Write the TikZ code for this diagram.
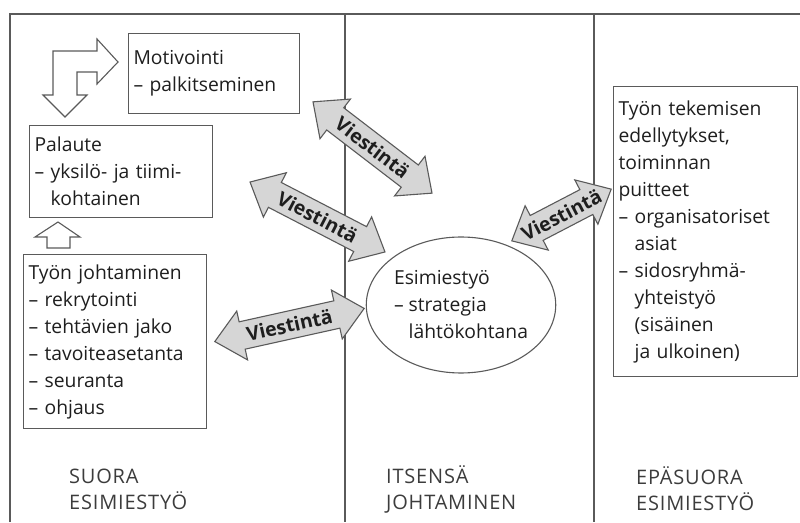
\documentclass[tikz,border=0pt]{standalone}
\usepackage{fontspec}
\setmainfont{Open Sans}
\usetikzlibrary{shapes.geometric}
\definecolor{linegray}{HTML}{5A5A5A}
\definecolor{txt}{HTML}{1E1E1E}
\definecolor{lbltxt}{HTML}{3C3C3C}
\definecolor{arrfill}{HTML}{D6D6D6}
\newcommand{\boxfont}{\fontsize{19.3}{27}\selectfont}
\newcommand{\lblfont}{\fontsize{20}{26}\selectfont\addfontfeatures{LetterSpace=4}}
\newcommand{\vfont}{\fontsize{19.5}{20}\selectfont\bfseries}
\newcommand{\ind}{\hphantom{– }}
\tikzset{
  frameline/.style={draw=linegray, line width=1.4pt},
  box/.style={draw=linegray, line width=1.1pt, anchor=north west, align=left,
    inner xsep=5pt, inner ysep=0pt, font=\boxfont, text=txt},
  hollow/.style={draw=linegray, line width=1.1pt, fill=white, line join=miter},
  arrowline/.style={draw=linegray, line width=1.1pt, fill=arrfill, line join=miter},
  vtext/.style={font=\vfont, text=txt, inner sep=0pt, transform shape},
  lbl/.style={anchor=west, align=left, font=\lblfont, text=lbltxt, inner sep=0pt},
}
\newcommand{\viestarrow}[5]{%
  \begin{scope}[shift={(#2,#3)}, rotate=#4]
    \pgfmathsetmacro\vaHalf{#5/2}
    \pgfmathsetmacro\vaBase{#5/2-28}
    \draw[arrowline] (-\vaHalf,0) -- (-\vaBase,25) -- (-\vaBase,14) -- (\vaBase,14)
      -- (\vaBase,25) -- (\vaHalf,0) -- (\vaBase,-25) -- (\vaBase,-14)
      -- (-\vaBase,-14) -- (-\vaBase,-25) -- cycle;
    \node[vtext] (#1) at (0,0) {Viestintä};
  \end{scope}}
\begin{document}
\begin{tikzpicture}[x=1pt, y=1pt]
  \useasboundingbox (0,0) rectangle (800,522);
  % frame and column dividers
  \draw[frameline] (10,0) -- (10,508) -- (800,508);
  \draw[frameline] (345,508) -- (345,0);
  \draw[frameline] (594,508) -- (594,0);

  % boxes
  \node[box, text width=161, minimum height=80] (motiv) at (128,489)
    {Motivointi\\– palkitseminen};
  \node[box, text width=173, minimum height=92] (palaute) at (29,397)
    {Palaute\\– yksilö- ja tiimi-\\\ind kohtainen};
  \node[box, text width=173, minimum height=174] (tyon) at (23,268)
    {Työn johtaminen\\– rekrytointi\\– tehtävien jako\\– tavoiteasetanta\\– seuranta\\– ohjaus};
  \node[box, text width=174, minimum height=290] (edell) at (613,436)
    {Työn tekemisen\\edellytykset,\\toiminnan\\puitteet\\– organisatoriset\\\ind asiat\\– sidosryhmä-\\\ind yhteistyö\\\ind (sisäinen\\\ind ja ulkoinen)};
  \node[draw=linegray, line width=1.1pt, ellipse, minimum width=188, minimum height=136,
    inner sep=0pt, align=left, font=\boxfont, text=txt] (esim) at (461,217)
    {Esimiestyö\\– strategia\\\ind lähtökohtana};

  % hollow arrows
  \draw[hollow] (53,471) -- (97,471) -- (97,483) -- (118,460) -- (97,438) -- (97,450)
    -- (77,450) -- (77,427) -- (87,427) -- (65,405) -- (43,427) -- (53,427) -- cycle;
  \draw[hollow] (47,274) -- (47,285) -- (35,285) -- (58,300) -- (80,285) -- (70,285)
    -- (70,274) -- cycle;

  % communication arrows
  \viestarrow{v1}{372.5}{374.5}{-37.5}{150}
  \viestarrow{v2}{317.5}{305}{-27.4}{152}
  \viestarrow{v3}{289.5}{197}{12.5}{153}
  \viestarrow{v4}{561.5}{307}{27.5}{112}

  % column labels
  \node[lbl] (suora) at (69,33) {SUORA\\ESIMIESTYÖ};
  \node[lbl] (itsensa) at (386,33) {ITSENSÄ\\JOHTAMINEN};
  \node[lbl] (epasuora) at (636,33) {EPÄSUORA\\ESIMIESTYÖ};
\end{tikzpicture}
\end{document}
